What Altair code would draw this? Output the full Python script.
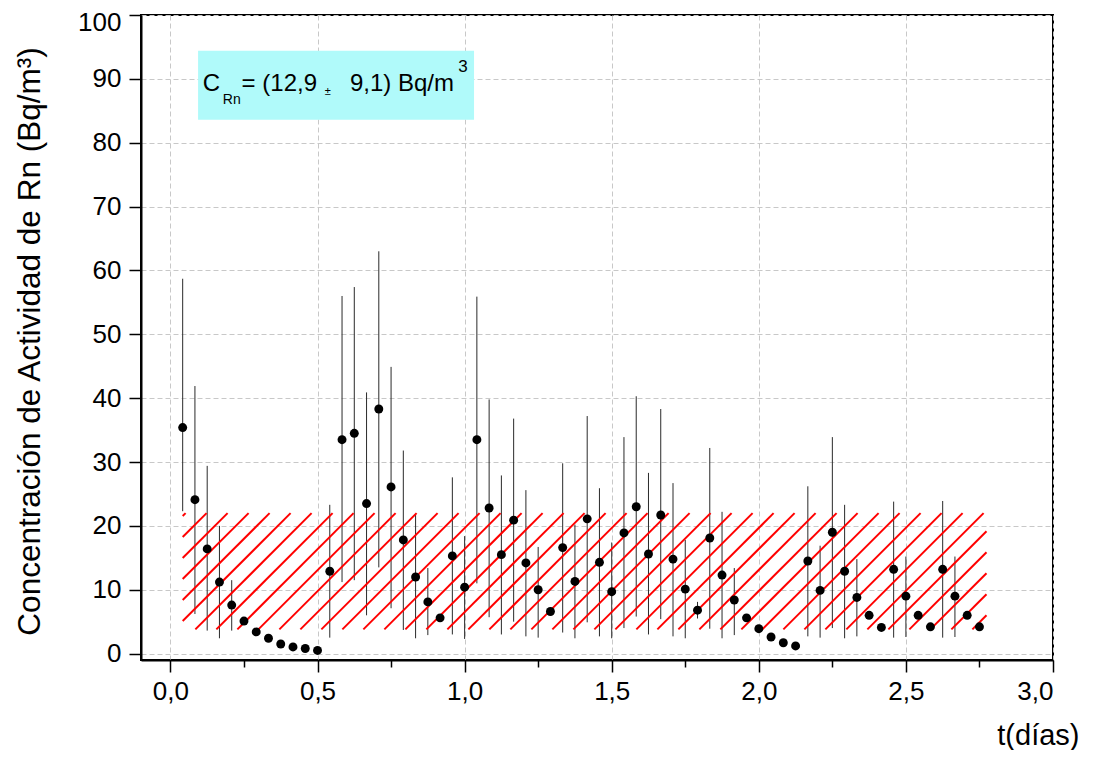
import altair as alt
import pandas as pd

# ---------------- data ----------------
hours = list(range(1, 67))
t_days = [h / 24 for h in hours]

conc = [35.4, 24.1, 16.4, 11.2, 7.6, 5.1, 3.4, 2.4, 1.5, 1.05, 0.8, 0.5,
        12.9, 33.5, 34.5, 23.5, 38.3, 26.1, 17.8, 12.0, 8.1, 5.6, 15.3, 10.4,
        33.5, 22.8, 15.5, 20.9, 14.2, 10.0, 6.6, 16.6, 11.3, 21.1, 14.3, 9.7,
        18.9, 23.0, 15.6, 21.7, 14.8, 10.1, 6.8, 18.1, 12.3, 8.4, 5.6, 3.9,
        2.6, 1.7, 1.2, 14.5, 9.9, 19.0, 12.9, 8.8, 6.0, 4.1, 13.2, 9.0, 6.0, 4.2,
        13.2, 9.0, 6.0, 4.2]

err_hi = [58.7, 41.9, 29.4, 20.0, 11.5, None, None, None, None, None, None, None,
          23.3, 56.0, 57.4, 40.9, 63.0, 44.9, 31.8, 21.8, 13.4, None, 27.6, 18.4,
          55.9, 39.8, 27.9, 36.8, 25.6, 16.7, None, 29.8, 20.2, 37.2, 25.9, 17.4,
          33.9, 40.3, 28.3, 38.3, 26.7, 17.8, 8.1, 32.2, 22.2, 13.4, None, None,
          None, None, None, 26.2, 16.9, 33.9, 23.3, 14.8, None, None, 23.8, 15.2, None, None,
          23.9, 15.2, None, None]

err_lo = [22.3, 6.2, 3.6, 2.4, 3.6, None, None, None, None, None, None, None,
          2.5, 11.2, 11.5, 6.0, 13.5, 7.1, 3.7, 2.4, 2.9, None, 3.0, 2.3,
          11.0, 5.7, 3.0, 5.0, 2.7, 2.5, None, 3.3, 2.4, 4.9, 2.7, 2.4,
          4.0, 5.8, 3.0, 5.4, 2.7, 2.4, 5.5, 3.9, 2.4, 2.9, None, None,
          None, None, None, 2.7, 2.5, 4.0, 2.4, 2.7, None, None, 2.5, 2.6, None, None,
          2.5, 2.6, None, None]

mean_c = 12.9
sd_c = 9.1
band_start = 1 / 24
band_end = 2.774

x_tick_values = [i * 0.25 for i in range(13)]
y_tick_values = [i * 5 for i in range(21)]

# ---------------- geometry of the plot area ----------------
W, H = 912, 645
XMIN, XMAX = -0.1, 3.0
YMIN, YMAX = -1, 100
sx = W / (XMAX - XMIN)
sy = H / (YMAX - YMIN)

df = pd.DataFrame({"t": t_days, "c": conc, "hi": err_hi, "lo": err_lo})
df_err = df.dropna()

# hatch segments (45 deg on screen) clipped to the mean +/- sd band
y0, y1 = mean_c - sd_c, mean_c + sd_c
band_w = (band_end - band_start) * sx
band_h = (y1 - y0) * sy
spacing, phase = 21.0, 12.7
segs = []
k = -20
while True:
    c = phase + spacing * k
    k += 1
    if c > band_w:
        break
    h0 = max(0.0, -c)
    h1 = min(band_h, band_w - c)
    if h1 <= h0:
        continue
    segs.append({
        "xa": band_start + (c + h0) / sx, "ya": y0 + h0 / sy,
        "xb": band_start + (c + h1) / sx, "yb": y0 + h1 / sy,
    })
df_hatch = pd.DataFrame(segs)

box = pd.DataFrame({"x": [0.094], "x2": [1.032], "y": [83.6], "y2": [94.4]})
label_parts = pd.DataFrame({
    "x": [0.110, 0.178, 0.242, 0.525, 0.610, 0.978],
    "y": [88.15, 86.0, 88.15, 87.5, 88.15, 91.1],
    "txt": ["C", "Rn", "= (12,9", "±", "9,1) Bq/m", "3"],
    "s": [24, 14, 24, 11, 24, 17],
})

xs = alt.Scale(domain=[XMIN, XMAX], nice=False, zero=False)
ys = alt.Scale(domain=[YMIN, YMAX], nice=False, zero=False)

FONT = "Liberation Sans"

x_axis = alt.Axis(
    values=x_tick_values,
    title="t(días)",
    titleFont=FONT, titleFontSize=29, titleFontWeight="normal", titleColor="black",
    titleX=938, titleY=84, titleAlign="right", titleBaseline="alphabetic", titleAnchor="end",
    labelFont=FONT, labelFontSize=26, labelColor="black", labelPadding=6,
    labelExpr="round(datum.value*4) % 2 == 0 ? replace(format(datum.value, '.1f'), '.', ',') : ''",
    tickSize={"condition": {"test": "round(datum.value*4) % 2 == 0", "value": 12}, "value": 7},
    gridOpacity={"condition": {"test": "round(datum.value*4) % 2 == 0", "value": 1}, "value": 0},
    grid=True, gridDash=[5, 3], gridColor="#c8c8c8", gridWidth=1,
    domainColor="black", domainWidth=2, tickColor="black", tickWidth=1.5,
)
y_axis = alt.Axis(
    values=y_tick_values,
    title="Concentración de Actividad de Rn (Bq/m³)",
    titleFont=FONT, titleFontSize=31.5, titleFontWeight="normal", titleColor="black",
    titleX=-111, titleY=326, titleAlign="center", titleBaseline="middle", titleAngle=-90,
    labelFont=FONT, labelFontSize=26, labelColor="black", labelPadding=8,
    labelExpr="round(datum.value/5) % 2 == 0 ? format(datum.value, 'd') : ''",
    labelOffset={"condition": {"test": "datum.value >= 100", "value": 7}, "value": 0},
    tickSize={"condition": {"test": "round(datum.value/5) % 2 == 0", "value": 12}, "value": 7},
    gridOpacity={"condition": {"test": "round(datum.value/5) % 2 == 0", "value": 1}, "value": 0},
    grid=True, gridDash=[5, 3], gridColor="#c8c8c8", gridWidth=1,
    domainColor="black", domainWidth=2, tickColor="black", tickWidth=1.5,
)

errbars = alt.Chart(df_err).mark_rule(color="#2a2a2a", strokeWidth=1).encode(
    x=alt.X("t:Q", scale=xs, axis=x_axis),
    y=alt.Y("lo:Q", scale=ys, axis=y_axis),
    y2="hi:Q",
)

hatch = alt.Chart(df_hatch).mark_rule(color="#ff0000", strokeWidth=2).encode(
    x=alt.X("xa:Q", scale=xs),
    y=alt.Y("ya:Q", scale=ys),
    x2="xb:Q",
    y2="yb:Q",
)

points = alt.Chart(df).mark_circle(size=80, color="black", opacity=1).encode(
    x=alt.X("t:Q", scale=xs),
    y=alt.Y("c:Q", scale=ys),
)

box_layer = alt.Chart(box).mark_rect(color="#b0fafa").encode(
    x=alt.X("x:Q", scale=xs), x2="x2:Q",
    y=alt.Y("y:Q", scale=ys), y2="y2:Q",
)

text_layer = alt.Chart(label_parts).mark_text(
    align="left", baseline="alphabetic", font=FONT, color="black"
).encode(
    x=alt.X("x:Q", scale=xs),
    y=alt.Y("y:Q", scale=ys),
    text="txt:N",
    size=alt.Size("s:Q", scale=None, legend=None),
)

chart = alt.layer(errbars, hatch, points, box_layer, text_layer).properties(
    width=W, height=H,
    autosize=alt.AutoSizeParams(type="none"),
    padding={"left": 133, "top": 7, "right": 32, "bottom": 90},
).configure(
    background="white"
).configure_view(
    stroke="black", strokeWidth=2
).configure_axis(
    domainColor="black", domainWidth=2,
    tickColor="black", tickWidth=1.5,
    gridColor="#c8c8c8", gridDash=[5, 3], gridWidth=1,
)

chart.save("out.html", embed_options={"renderer": "svg", "actions": False})
